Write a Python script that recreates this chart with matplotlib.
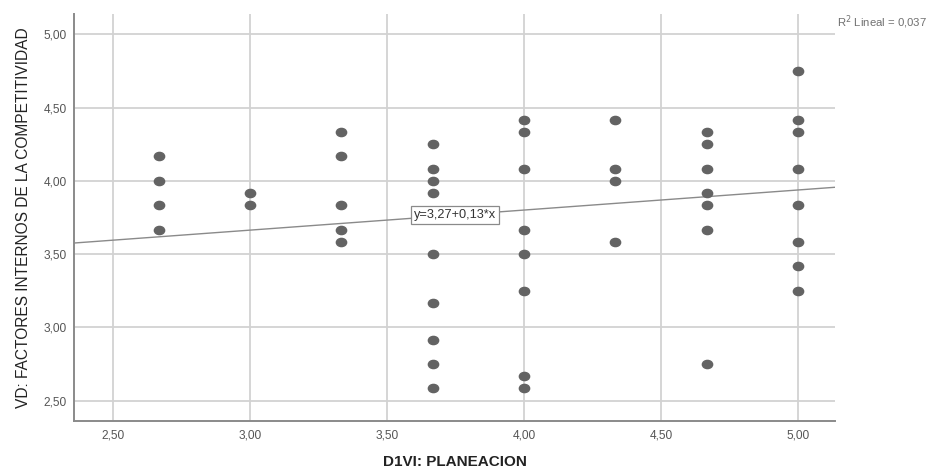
import numpy as np
import matplotlib
matplotlib.use("Agg")
import matplotlib.pyplot as plt
from matplotlib.path import Path
from matplotlib.transforms import Affine2D

plt.rcParams['font.family'] = ['Liberation Sans', 'DejaVu Sans']

# D1VI: PLANEACION values and the matching VD values
x_vals = [2.667] * 4 + [3.0] * 2 + [3.333] * 5 + [3.667] * 9 + [4.0] * 8 + [4.333] * 4 + [4.667] * 7 + [5.0] * 8
y_vals = [4.167, 4.0, 3.833, 3.667,
          3.917, 3.833,
          4.333, 4.167, 3.833, 3.667, 3.583,
          4.25, 4.083, 4.0, 3.917, 3.5, 3.167, 2.917, 2.75, 2.583,
          4.417, 4.333, 4.083, 3.667, 3.5, 3.25, 2.667, 2.583,
          4.417, 4.083, 4.0, 3.583,
          4.333, 4.25, 4.083, 3.917, 3.833, 3.667, 2.75,
          4.75, 4.417, 4.333, 4.083, 3.833, 3.583, 3.417, 3.25]

# unrounded fit (label shows the rounded one)
intercept = 3.253
slope = 0.137
r2_text = "R$^2$ Lineal = 0,037"
eq_text = "y=3,27+0,13*x"

x_ticks = [2.5, 3.0, 3.5, 4.0, 4.5, 5.0]
y_ticks = [2.5, 3.0, 3.5, 4.0, 4.5, 5.0]
x_lim = (2.357, 5.135)
y_lim = (2.361, 5.139)

fig = plt.figure(figsize=(9.28, 4.68), dpi=100)
ax = fig.add_axes([0.0797, 0.1004, 0.8201, 0.8696])

# slightly wide ellipse marker like the SPSS output
ell = Path.unit_circle().transformed(Affine2D().scale(1.25, 1.0))
ax.plot(x_vals, y_vals, linestyle='none', marker=ell, ms=7.4,
        color='#636363', zorder=3)

xs = np.array(x_lim)
ax.plot(xs, intercept + slope * xs, color='#8a8a8a', lw=1.0, zorder=2)

ax.set_xlim(*x_lim)
ax.set_ylim(*y_lim)
ax.set_xticks(x_ticks)
ax.set_yticks(y_ticks)
ax.set_xticklabels([f"{v:.2f}".replace('.', ',') for v in x_ticks])
ax.set_yticklabels([f"{v:.2f}".replace('.', ',') for v in y_ticks])
ax.tick_params(length=0, labelsize=8.6, labelcolor='#555555')
ax.tick_params(axis='x', pad=6)
ax.tick_params(axis='y', pad=5)

ax.grid(True, color='#d2d2d2', lw=1.3)
ax.set_axisbelow(True)
for side in ['top', 'right']:
    ax.spines[side].set_visible(False)
for side in ['left', 'bottom']:
    ax.spines[side].set_color('#8a8a8a')
    ax.spines[side].set_linewidth(1.4)

ax.set_xlabel("D1VI: PLANEACION", fontsize=11, fontweight='bold',
              color='#222222', labelpad=10)
ax.set_ylabel("VD: FACTORES INTERNOS DE LA COMPETITIVIDAD", fontsize=11.2,
              color='#222222', labelpad=9)

xe = 3.748
ax.text(xe, intercept + slope * xe, eq_text, fontsize=9.2, color='#333333',
        ha='center', va='center', zorder=4,
        bbox=dict(boxstyle='square,pad=0.22', fc='white', ec='#8a8a8a', lw=0.9))

fig.text(0.9985, 0.953, r2_text, fontsize=8.2, color='#707070',
         ha='right', va='center')

fig.savefig("out.png", dpi=100)
